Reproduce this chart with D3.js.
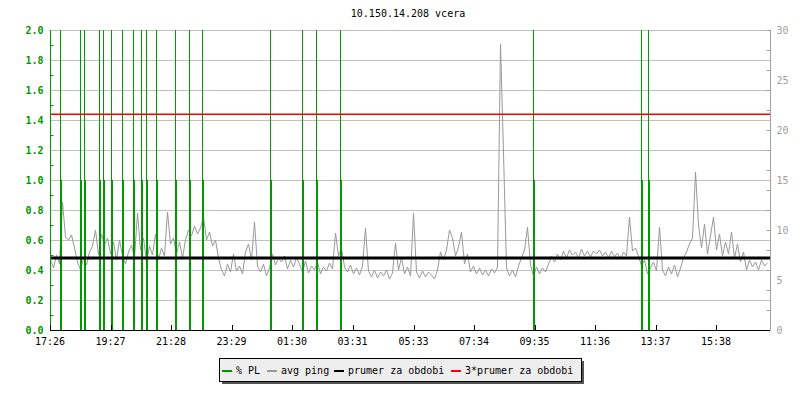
<!DOCTYPE html>
<html><head><meta charset="utf-8">
<script src="https://cdn.jsdelivr.net/npm/d3@7"></script>
<style>
body{margin:0;background:#fff}
svg{display:block}
text{font-family:"DejaVu Sans Mono",monospace;font-size:10px}
</style>
</head><body><svg id="c" width="800" height="400"></svg>
<script>
const title = "10.150.14.208 vcera";
const startLabel = "17:26";
const xTickLabels = ["17:26","19:27","21:28","23:29","01:30","03:31","05:33","07:34","09:35","11:36","13:37","15:38"];
const leftTicks = [0,0.2,0.4,0.6,0.8,1.0,1.2,1.4,1.6,1.8,2.0];
const rightTicks = [0,5,10,15,20,25,30];
const pingStepMin = 6;
const pingValues = [
7.0,6.2,7.5,6.6,12.8,9.3,9.0,9.5,8.2,6.8,
6.0,7.2,6.5,7.8,8.4,10.0,7.5,9.6,8.5,9.2,
7.6,8.8,7.0,9.0,7.4,6.6,7.8,8.5,7.2,11.7,
8.0,9.2,6.8,8.4,7.5,9.6,7.0,8.2,7.4,11.8,
8.6,9.2,7.6,8.8,7.2,9.0,10.0,9.4,10.4,9.6,
10.2,11.3,9.0,9.8,8.4,9.0,7.2,6.0,5.4,6.6,
5.8,7.6,5.9,6.4,5.6,7.8,8.6,7.0,10.8,6.4,
5.8,6.6,5.4,6.2,7.6,6.5,7.2,6.8,7.4,6.1,
7.0,6.3,7.2,6.6,5.8,6.9,5.7,6.4,6.0,6.8,
5.6,6.3,5.9,6.7,6.1,9.7,7.4,8.2,6.3,5.8,
6.5,5.6,6.2,5.5,6.4,10.2,5.9,5.3,6.0,5.2,
5.8,5.4,6.0,5.1,5.7,8.7,6.0,7.2,5.6,6.3,
5.4,11.7,5.8,5.2,5.9,5.3,5.8,5.5,5.1,6.0,
7.8,7.0,8.0,10.0,9.2,7.4,8.3,9.8,6.6,7.6,
5.8,6.4,5.6,6.2,5.5,6.0,5.4,6.1,5.7,6.3,
28.6,17.7,6.2,5.4,6.0,5.3,6.4,7.2,8.0,10.3,
6.5,5.4,6.3,5.6,6.2,5.8,6.6,7.4,6.8,7.6,
7.0,7.9,7.2,8.0,7.5,7.8,7.2,8.1,7.4,7.9,
7.3,7.9,7.6,8.0,7.4,7.8,7.2,7.9,7.3,7.7,
7.1,7.8,7.4,11.3,7.9,8.2,7.4,6.4,7.0,5.6,
6.2,6.8,5.9,10.3,6.0,5.4,6.3,5.6,6.5,5.3,
6.2,7.2,7.8,8.6,9.2,15.8,10.5,8.2,10.6,7.6,
9.4,11.3,8.0,9.6,7.4,8.8,7.6,9.8,7.2,8.6,
6.8,7.8,6.0,7.0,6.3,6.8,6.0,7.0,6.4,6.7
];
const plMinutes = [20,60,68,97,106,122,144,166,182,192,212,250,278,304,439,504,532,580,965,1182,1196];
const plValues  = [5,5,5,5,5,5,5,5,5,5,5,5,5,5,5,5,5,5,5,5,5];
const avgPing = 7.19;
const avgPing3 = 21.57;
const legendLabels = ["% PL","avg ping","prumer za obdobi","3*prumer za obdobi"];
const legendColors = ["#009900","#999999","#000000","#ff0000"];

const svg = d3.select("#c");
const X0=50,X1=770,Y0=30,Y1=330;
const toMin = s => { const [h,m]=s.split(":").map(Number); return h*60+m; };
const start = toMin(startLabel);
const x = d3.scaleLinear().domain([0,1440]).range([X0,X1]);
const yL = d3.scaleLinear().domain([0,2]).range([Y1,Y0]);
const yR = d3.scaleLinear().domain([0,30]).range([Y1,Y0]);

svg.append("text").attr("x",408).attr("y",17).attr("text-anchor","middle").attr("fill","#000").text(title);

// grid
svg.append("g").selectAll("line").data(leftTicks.filter(t=>t>0)).join("line")
  .attr("x1",X0).attr("x2",X1).attr("y1",d=>yL(d)+0.5).attr("y2",d=>yL(d)+0.5)
  .attr("stroke","#c0c0c0").attr("stroke-width",1);

// ping
const pingData = pingValues.map((v,i)=>({m:i*pingStepMin,v}));
svg.append("path").datum(pingData)
  .attr("d",d3.line().x(d=>Math.round(x(d.m))+0.5).y(d=>Math.max(Y0,yR(d.v))))
  .attr("fill","none").attr("stroke","#999999").attr("stroke-width",1);

// PL
const pl = plMinutes.map((m,i)=>({m,v:plValues[i]}));
const gpl = svg.append("g");
gpl.selectAll("line.lo").data(pl).join("line")
  .attr("x1",d=>Math.round(x(d.m))+1).attr("x2",d=>Math.round(x(d.m))+1)
  .attr("y1",Y1).attr("y2",d=>yL(Math.min(d.v,1)))
  .attr("stroke","#009900").attr("stroke-width",2);
gpl.selectAll("line.hi").data(pl.filter(d=>d.v>1)).join("line")
  .attr("x1",d=>Math.round(x(d.m))+0.5).attr("x2",d=>Math.round(x(d.m))+0.5)
  .attr("y1",yL(1)).attr("y2",d=>yL(Math.min(d.v,2)))
  .attr("stroke","#009900").attr("stroke-width",1);

// averages
svg.append("line").attr("x1",X0).attr("x2",X1).attr("y1",yR(avgPing)).attr("y2",yR(avgPing))
  .attr("stroke","#000").attr("stroke-width",3);
svg.append("line").attr("x1",X0).attr("x2",X1).attr("y1",yR(avgPing3)).attr("y2",yR(avgPing3))
  .attr("stroke","#ff0000").attr("stroke-width",1.5);

// left axis
const la = svg.append("g").attr("transform",`translate(${X0+0.5},0)`);
la.append("line").attr("y1",Y0).attr("y2",Y1).attr("stroke","#009900");
la.selectAll("line.mt").data(d3.range(1,20,2).map(k=>k/10)).join("line")
  .attr("x1",0).attr("x2",3).attr("y1",d=>Math.round(yL(d))+0.5).attr("y2",d=>Math.round(yL(d))+0.5)
  .attr("stroke","#009900");
la.selectAll("text").data(leftTicks).join("text")
  .attr("x",-7).attr("y",d=>yL(d)+4).attr("text-anchor","end")
  .attr("fill","#009900").attr("font-weight","bold").text(d=>d.toFixed(1));

// right axis
const ra = svg.append("g").attr("transform",`translate(${X1+0.5},0)`);
ra.append("line").attr("y1",Y0).attr("y2",Y1).attr("stroke","#a0a0a0");
ra.selectAll("line.mt").data(d3.range(0,31,2)).join("line")
  .attr("x1",-4).attr("x2",0).attr("y1",d=>Math.round(yR(d))+0.5).attr("y2",d=>Math.round(yR(d))+0.5)
  .attr("stroke","#a0a0a0");
ra.selectAll("text").data(rightTicks).join("text")
  .attr("x",6).attr("y",d=>yR(d)+4).attr("fill","#a0a0a0").text(d=>d);

// bottom axis
const ba = svg.append("g");
ba.append("line").attr("x1",X0).attr("x2",X1).attr("y1",Y1+0.5).attr("y2",Y1+0.5).attr("stroke","#000");
const tickM = xTickLabels.map(s=>((toMin(s)-start)+1440)%1440);
ba.selectAll("line.t").data(tickM).join("line")
  .attr("x1",d=>Math.round(x(d))+0.5).attr("x2",d=>Math.round(x(d))+0.5)
  .attr("y1",Y1-5).attr("y2",Y1).attr("stroke","#000");
ba.selectAll("text").data(xTickLabels).join("text")
  .attr("x",(d,i)=>x(tickM[i])).attr("y",Y1+15).attr("text-anchor","middle").attr("fill","#000").text(d=>d);

// legend
const lg = svg.append("g");
lg.append("rect").attr("x",222).attr("y",361).attr("width",362).attr("height",23).attr("fill","#555");
lg.append("rect").attr("x",219.5).attr("y",358.5).attr("width",362).attr("height",23).attr("fill","#eeeeee").attr("stroke","#000");
const lx = [222,267,334,451];
legendLabels.forEach((t,i)=>{
  lg.append("rect").attr("x",lx[i]).attr("y",370).attr("width",10).attr("height",2).attr("fill",legendColors[i]);
  lg.append("text").attr("x",lx[i]+14).attr("y",374).attr("fill","#000").text(t);
});
</script></body></html>
